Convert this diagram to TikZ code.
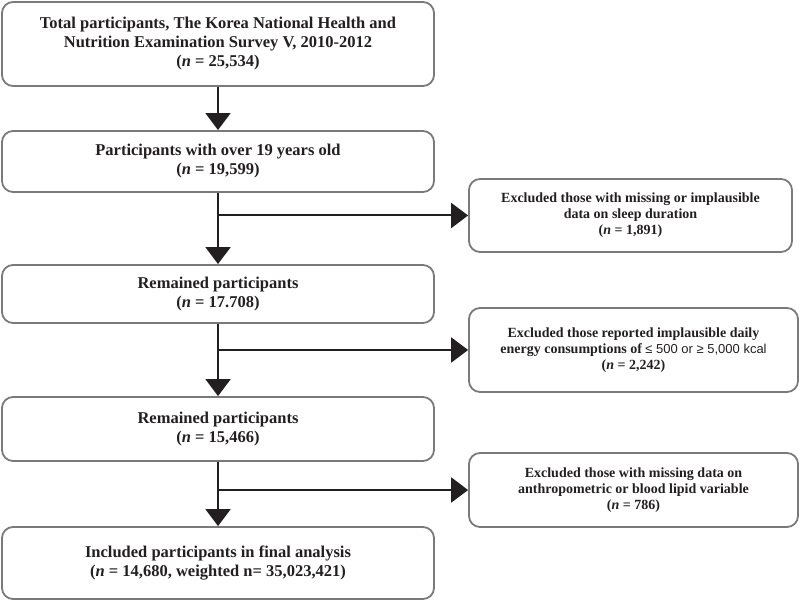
\documentclass[tikz,border=0pt]{standalone}
\usepackage{fontspec}
\setmainfont{Liberation Serif}
\newfontfamily\kcalfont{Liberation Sans}
\usetikzlibrary{arrows.meta}
\definecolor{ink}{HTML}{231F20}
\definecolor{frame}{HTML}{7A7A7A}
\begin{document}
\begin{tikzpicture}[x=1pt,y=-1pt,
  mainbox/.style={draw=frame,line width=1.8pt,rounded corners=11pt,inner sep=0pt,minimum width=432pt,align=center,text=ink,font=\fontsize{16.5}{19}\selectfont\bfseries},
  exbox/.style={draw=frame,line width=1.8pt,rounded corners=11pt,inner sep=0pt,align=center,text=ink,font=\fontsize{14}{16}\selectfont\bfseries},
  flow/.style={draw=ink,line width=2pt,-{Triangle[length=17pt,width=25pt]}}]
\useasboundingbox (0,0) rectangle (800,601);
\node[mainbox,minimum height=84pt] (total) at (218,44) {Total participants, The Korea National Health and\\Nutrition Examination Survey V, 2010-2012\\(\textit{n} = 25,534)};
\node[mainbox,minimum height=61pt] (adult) at (218,161.5) {Participants with over 19 years old\\(\textit{n} = 19,599)};
\node[mainbox,minimum height=58pt] (remA) at (218,294) {Remained participants\\(\textit{n} = 17.708)};
\node[mainbox,minimum height=64pt] (remB) at (218,429) {Remained participants\\(\textit{n} = 15,466)};
\node[mainbox,minimum height=72pt] (final) at (218,563) {Included participants in final analysis\\(\textit{n} = 14,680, weighted n= 35,023,421)};
\node[exbox,minimum width=323pt,minimum height=73pt] (exsleep) at (630.5,215.5) {Excluded those with missing or implausible\\data on sleep duration\\(\textit{n} = 1,891)};
\node[exbox,minimum width=329pt,minimum height=84pt] (exenergy) at (633.5,350) {Excluded those reported implausible daily\\energy consumptions of {\kcalfont\mdseries\fontsize{13}{16}\selectfont ≤ 500 or ≥ 5,000 kcal}\\(\textit{n} = 2,242)};
\node[exbox,minimum width=329pt,minimum height=74pt] (exlipid) at (633.5,490) {Excluded those with missing data on\\anthropometric or blood lipid variable\\(\textit{n} = 786)};
\coordinate (cutA) at (adult.south |- exsleep.west);
\coordinate (cutB) at (remA.south |- exenergy.west);
\coordinate (cutC) at (remB.south |- exlipid.west);
\draw[flow] (total) -- (adult);
\draw[flow] (adult) -- (remA);
\draw[flow] (remA) -- (remB);
\draw[flow] (remB) -- (final);
\draw[flow] (cutA) -- (exsleep);
\draw[flow] (cutB) -- (exenergy);
\draw[flow] (cutC) -- (exlipid);
\end{tikzpicture}
\end{document}
